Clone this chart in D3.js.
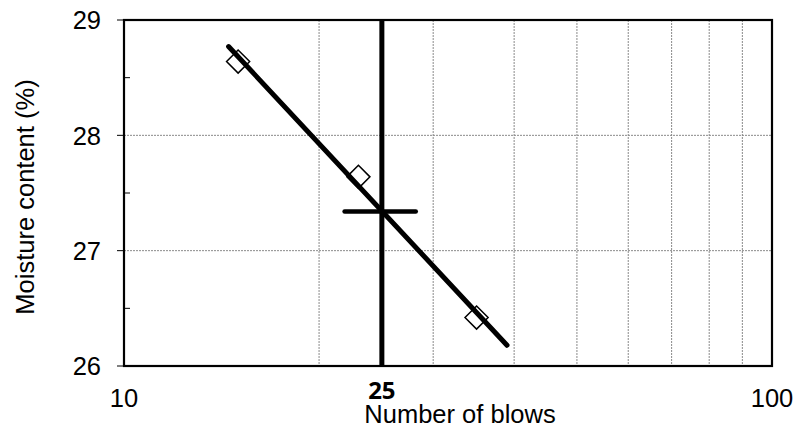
<!DOCTYPE html>
<html><head><meta charset="utf-8">
<script src="https://cdn.jsdelivr.net/npm/d3@7"></script>
<style>body{margin:0;background:#fff;}svg{display:block;}</style>
</head><body>
<svg id="c" width="809" height="429"></svg>
<script>
const blows = [15, 23, 35];
const moisture = [28.64, 27.64, 26.42];
const trendBlows = [14.5, 39];
const trendMoisture = [28.77, 26.18];
const llBlows = 25;
const llMoisture = 27.34;
const llMarkBlows = [21.9, 28.2];
const yTicks = [26, 27, 28, 29];
const yMinorTicks = [26.5, 27.5, 28.5];
const xGrid = [20, 30, 40, 50, 60, 70, 80, 90];
const xTickLabels = [10, 100];

const svg = d3.select('#c');
const L = 124, R = 772, T = 20, B = 366;
const x = d3.scaleLog().domain([10, 100]).range([L, R]);
const y = d3.scaleLinear().domain([26, 29]).range([B, T]);
const font = 'Arial, "Liberation Sans", sans-serif';

// grid
svg.append('g').selectAll('line').data(xGrid).join('line')
  .attr('x1', d => x(d)).attr('x2', d => x(d)).attr('y1', T).attr('y2', B)
  .attr('stroke', '#8a8a8a').attr('stroke-width', 1).attr('stroke-dasharray', '2,1');
svg.append('g').selectAll('line').data([27, 28]).join('line')
  .attr('x1', L).attr('x2', R).attr('y1', d => y(d)).attr('y2', d => y(d))
  .attr('stroke', '#8a8a8a').attr('stroke-width', 1).attr('stroke-dasharray', '2,1');

// frame
svg.append('rect').attr('x', L).attr('y', T).attr('width', R - L).attr('height', B - T)
  .attr('fill', 'none').attr('stroke', '#000').attr('stroke-width', 2.2);

// y axis ticks
svg.append('g').selectAll('line').data(yTicks).join('line')
  .attr('x1', L - 7).attr('x2', L).attr('y1', d => y(d)).attr('y2', d => y(d))
  .attr('stroke', '#000').attr('stroke-width', 1);
svg.append('g').selectAll('line').data(yMinorTicks).join('line')
  .attr('x1', L).attr('x2', L + 6).attr('y1', d => y(d)).attr('y2', d => y(d))
  .attr('stroke', '#000').attr('stroke-width', 1);
svg.append('g').selectAll('text').data(yTicks).join('text')
  .attr('x', 101).attr('y', d => y(d)).attr('dy', '0.36em')
  .attr('text-anchor', 'end').attr('font-family', font).attr('font-size', 25.5)
  .text(d => d);

// x labels
svg.append('g').selectAll('text').data(xTickLabels).join('text')
  .attr('x', d => x(d)).attr('y', 407)
  .attr('text-anchor', 'middle').attr('font-family', font).attr('font-size', 25.5)
  .text(d => d);
svg.append('text').attr('x', x(llBlows)).attr('y', 399)
  .attr('text-anchor', 'middle').attr('font-family', '"Open Sans", sans-serif')
  .attr('font-weight', 'bold').attr('font-size', 24).text(llBlows);

// axis titles
svg.append('text').attr('x', 460).attr('y', 423)
  .attr('text-anchor', 'middle').attr('font-family', font).attr('font-size', 25.5)
  .text('Number of blows');
svg.append('text').attr('transform', 'translate(34,197) rotate(-90)')
  .attr('text-anchor', 'middle').attr('font-family', font).attr('font-size', 25.5)
  .text('Moisture content (%)');

// 25-blow vertical line
svg.append('line').attr('x1', x(llBlows)).attr('x2', x(llBlows)).attr('y1', T).attr('y2', B)
  .attr('stroke', '#000').attr('stroke-width', 5);

// markers
const pts = blows.map((b, i) => [b, moisture[i]]);
svg.append('g').selectAll('path').data(pts).join('path')
  .attr('d', d3.symbol().type(d3.symbolDiamond2).size(340))
  .attr('transform', d => `translate(${x(d[0])},${y(d[1])})`)
  .attr('fill', '#fff').attr('stroke', '#000').attr('stroke-width', 1.5);

// trend line
const tl = trendBlows.map((b, i) => [b, trendMoisture[i]]);
svg.append('path').datum(tl)
  .attr('d', d3.line().x(d => x(d[0])).y(d => y(d[1])))
  .attr('stroke', '#000').attr('stroke-width', 5).attr('stroke-linecap', 'round').attr('fill', 'none');

// liquid limit mark
svg.append('line').attr('x1', x(llMarkBlows[0])).attr('x2', x(llMarkBlows[1]))
  .attr('y1', y(llMoisture)).attr('y2', y(llMoisture))
  .attr('stroke', '#000').attr('stroke-width', 4.5).attr('stroke-linecap', 'round');
</script>
</body></html>
